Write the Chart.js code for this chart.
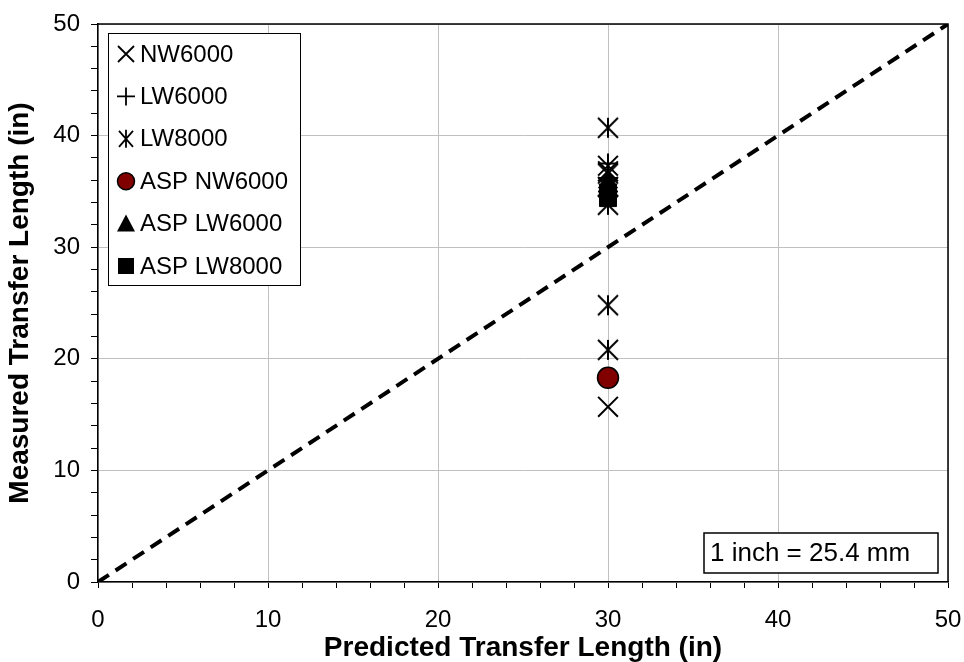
<!DOCTYPE html>
<html>
<head>
<meta charset="utf-8">
<script src="https://cdn.jsdelivr.net/npm/chart.js@4/dist/chart.umd.min.js"></script>
<style>
  html, body { margin: 0; padding: 0; background: #fff; }
  #wrap { width: 964px; height: 662px; }
</style>
</head>
<body>
<div id="wrap"><canvas id="chart" width="964" height="662"></canvas></div>
<script>
// 데이터
const predicted = 30;
const nw6000 = [15.7, 36.8, 37.3];
const lw6000 = [37.5, 36.2, 35.0];
const lw8000 = [40.7, 24.8, 20.8, 36.6, 35.4, 33.8];
const aspNw6000 = [18.3];
const aspLw6000 = [35.8];
const aspLw8000 = [34.4, 34.9];
const equalityX = [0, 50];
const equalityY = [0, 50];
const legendLabels = ['NW6000', 'LW6000', 'LW8000', 'ASP NW6000', 'ASP LW6000', 'ASP LW8000'];
const noteText = '1 inch = 25.4 mm';

const FONT = "'Liberation Sans', Arial, sans-serif";
const FONT_SIZE = 24;
const TITLE_SIZE = 28;

function toPoints(values) {
    return values.map(v => ({ x: predicted, y: v }));
}

// 별표 마커 (X + 세로선)
function makeAsterisk(r, lw) {
    const s = Math.ceil(2 * r + lw + 2);
    const c = document.createElement('canvas');
    c.width = s; c.height = s;
    const g = c.getContext('2d');
    const m = s / 2;
    g.strokeStyle = '#000';
    g.lineWidth = lw;
    g.beginPath();
    g.moveTo(m - r, m - r); g.lineTo(m + r, m + r);
    g.moveTo(m + r, m - r); g.lineTo(m - r, m + r);
    g.moveTo(m, m - r); g.lineTo(m, m + r);
    g.stroke();
    return c;
}

// 범례 마커 그리기
function drawMarker(ctx, type, x, y) {
    ctx.save();
    ctx.strokeStyle = '#000';
    ctx.fillStyle = '#000';
    ctx.lineWidth = 1.8;
    ctx.beginPath();
    if (type === 'x') {
        ctx.moveTo(x - 8, y - 8); ctx.lineTo(x + 8, y + 8);
        ctx.moveTo(x + 8, y - 8); ctx.lineTo(x - 8, y + 8);
        ctx.stroke();
    } else if (type === 'plus') {
        ctx.moveTo(x - 9, y); ctx.lineTo(x + 9, y);
        ctx.moveTo(x, y - 9); ctx.lineTo(x, y + 9);
        ctx.stroke();
    } else if (type === 'star') {
        ctx.moveTo(x - 7, y - 8); ctx.lineTo(x + 7, y + 8);
        ctx.moveTo(x + 7, y - 8); ctx.lineTo(x - 7, y + 8);
        ctx.moveTo(x, y - 9); ctx.lineTo(x, y + 9);
        ctx.stroke();
    } else if (type === 'circle') {
        ctx.lineWidth = 1.5;
        ctx.arc(x, y, 8.5, 0, Math.PI * 2);
        ctx.fillStyle = '#800000';
        ctx.fill();
        ctx.stroke();
    } else if (type === 'triangle') {
        ctx.moveTo(x, y - 9); ctx.lineTo(x + 9, y + 8); ctx.lineTo(x - 9, y + 8);
        ctx.closePath();
        ctx.fill();
    } else if (type === 'square') {
        ctx.rect(x - 8, y - 8, 16, 16);
        ctx.fill();
    }
    ctx.restore();
}

const markerTypes = ['x', 'plus', 'star', 'circle', 'triangle', 'square'];

// 범례, 테두리, 단위 박스
const overlayPlugin = {
    id: 'overlay',
    beforeDatasetsDraw(chart) {
        const { ctx, chartArea: a } = chart;
        ctx.save();
        ctx.strokeStyle = '#000';
        ctx.lineWidth = 1.5;
        ctx.beginPath();
        ctx.moveTo(a.left, a.top); ctx.lineTo(a.right, a.top); ctx.lineTo(a.right, a.bottom);
        ctx.stroke();
        ctx.restore();
    },
    afterDatasetsDraw(chart) {
        const { ctx } = chart;
        ctx.save();
        // 범례
        ctx.fillStyle = '#fff';
        ctx.fillRect(108, 33, 192, 252);
        ctx.strokeStyle = '#000';
        ctx.lineWidth = 1;
        ctx.strokeRect(108.5, 33.5, 192, 252);
        ctx.font = FONT_SIZE + 'px ' + FONT;
        ctx.textBaseline = 'middle';
        legendLabels.forEach((label, i) => {
            const y = 54 + i * 42.4;
            drawMarker(ctx, markerTypes[i], 126, y);
            ctx.fillStyle = '#000';
            ctx.fillText(label, 140, y + 1);
        });
        // 단위 박스
        ctx.fillStyle = '#fff';
        ctx.fillRect(704, 533, 234, 40);
        ctx.lineWidth = 1.5;
        ctx.strokeRect(704, 533, 234, 40);
        ctx.fillStyle = '#000';
        ctx.font = '26px ' + FONT;
        ctx.fillText(noteText, 710, 554);
        ctx.restore();
    }
};

const gridColor = ctx => (ctx.tick && ctx.tick.value % 10 === 0) ? '#c0c0c0' : 'rgba(0,0,0,0)';

const chart = new Chart(document.getElementById('chart'), {
    type: 'scatter',
    data: {
        datasets: [
            {
                label: 'equality',
                type: 'line',
                data: equalityX.map((x, i) => ({ x: x, y: equalityY[i] })),
                borderColor: '#000',
                borderWidth: 4,
                borderDash: [13, 8],
                pointRadius: 0,
                fill: false,
                order: 10
            },
            {
                label: legendLabels[0],
                data: toPoints(nw6000),
                pointStyle: 'crossRot',
                pointRadius: 14,
                borderColor: '#000',
                borderWidth: 2,
                order: 6
            },
            {
                label: legendLabels[1],
                data: toPoints(lw6000),
                pointStyle: 'cross',
                pointRadius: 10,
                borderColor: '#000',
                borderWidth: 2,
                order: 5
            },
            {
                label: legendLabels[2],
                data: toPoints(lw8000),
                pointStyle: makeAsterisk(10, 2),
                pointRadius: 10,
                order: 4
            },
            {
                label: legendLabels[3],
                data: toPoints(aspNw6000),
                pointStyle: 'circle',
                pointRadius: 10.5,
                backgroundColor: '#800000',
                borderColor: '#000',
                borderWidth: 1.5,
                order: 3
            },
            {
                label: legendLabels[4],
                data: toPoints(aspLw6000),
                pointStyle: 'triangle',
                pointRadius: 11,
                backgroundColor: '#000',
                borderColor: '#000',
                borderWidth: 1,
                order: 2
            },
            {
                label: legendLabels[5],
                data: toPoints(aspLw8000),
                pointStyle: 'rect',
                pointRadius: 12,
                backgroundColor: '#000',
                borderColor: '#000',
                borderWidth: 1,
                order: 1
            }
        ]
    },
    options: {
        responsive: false,
        animation: false,
        events: [],
        layout: { padding: { top: 24, right: 15, left: 0, bottom: 0 } },
        plugins: {
            legend: { display: false },
            tooltip: { enabled: false }
        },
        scales: {
            x: {
                type: 'linear',
                min: 0,
                max: 50,
                afterFit: scale => {
                    scale.height = 80;
                    scale.paddingLeft = 0;
                    scale.paddingRight = 0;
                },
                ticks: {
                    stepSize: 2,
                    autoSkip: false,
                    maxRotation: 0,
                    padding: 18,
                    color: '#000',
                    font: { family: FONT, size: FONT_SIZE },
                    callback: v => (v % 10 === 0 ? v : '')
                },
                grid: { color: gridColor, tickColor: '#000', tickLength: 6, lineWidth: 1 },
                border: { color: '#000', width: 1.5 },
                title: {
                    display: true,
                    text: 'Predicted Transfer Length (in)',
                    color: '#000',
                    font: { family: FONT, size: TITLE_SIZE, weight: 'bold', lineHeight: 1 },
                    padding: { top: 0, bottom: 0 }
                }
            },
            y: {
                type: 'linear',
                min: 0,
                max: 50,
                afterFit: scale => {
                    scale.width = 98;
                    scale.paddingTop = 0;
                    scale.paddingBottom = 0;
                },
                ticks: {
                    stepSize: 2,
                    autoSkip: false,
                    padding: 11,
                    color: '#000',
                    font: { family: FONT, size: FONT_SIZE },
                    callback: v => (v % 10 === 0 ? v : '')
                },
                grid: { color: gridColor, tickColor: '#000', tickLength: 7, lineWidth: 1 },
                border: { color: '#000', width: 1.5 },
                title: {
                    display: true,
                    text: 'Measured Transfer Length (in)',
                    color: '#000',
                    font: { family: FONT, size: TITLE_SIZE, weight: 'bold', lineHeight: 1 },
                    padding: { top: 6, bottom: 0 }
                }
            }
        }
    },
    plugins: [overlayPlugin]
});
</script>
</body>
</html>
